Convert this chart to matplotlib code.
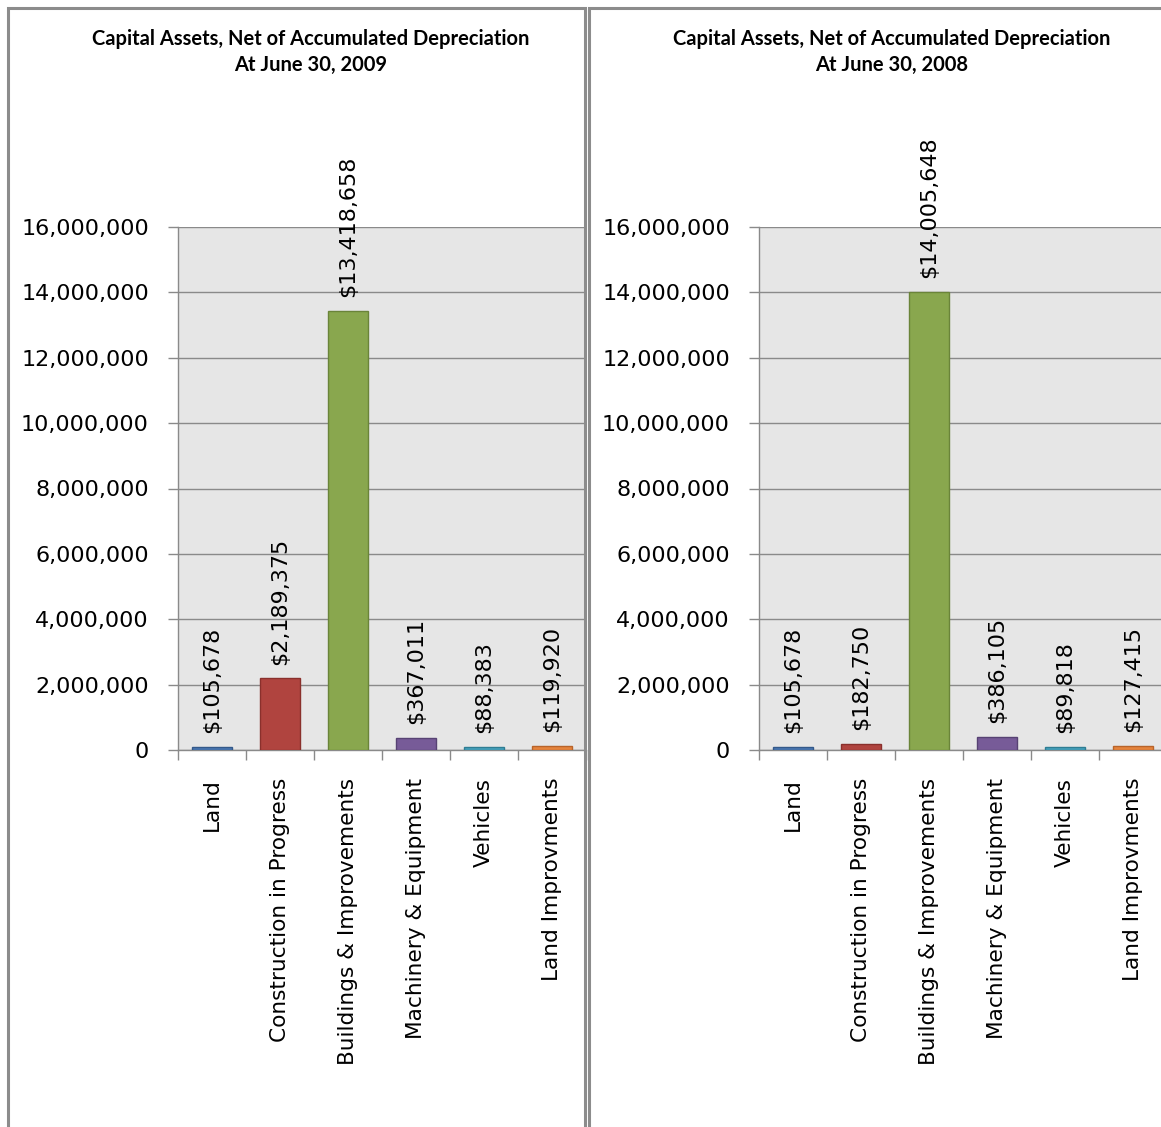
import matplotlib.pyplot as plt
from matplotlib.patches import Rectangle
from matplotlib.ticker import FuncFormatter, FixedLocator

categories = ['Land', 'Construction in Progress', 'Buildings & Improvements',
              'Machinery & Equipment', 'Vehicles', 'Land Improvments']
values_2009 = [105678, 2189375, 13418658, 367011, 88383, 119920]
values_2008 = [105678, 182750, 14005648, 386105, 89818, 127415]
titles = ['Capital Assets, Net of Accumulated Depreciation\nAt June 30, 2009',
          'Capital Assets, Net of Accumulated Depreciation\nAt June 30, 2008']

barColors = ['#4a78b2', '#b0443f', '#89a74e', '#775b98', '#46a2bd', '#e5843d']
edgeColors = ['#34598a', '#8a302c', '#6a8439', '#574273', '#2f7d93', '#b8642a']

W, H = 1161, 1127


def drawPanel(fig, left: float, values: list, title: str, boxLeft: float, titleX: float) -> None:
    ax = fig.add_axes([left / W, 1 - 750 / H, 408 / W, 523 / H])
    ax.set_facecolor('#e6e6e6')
    x = list(range(len(categories)))
    ax.bar(x, values, width=0.59, color=barColors, edgecolor=edgeColors, linewidth=1, zorder=3)
    ax.set_xlim(-0.5, len(categories) - 0.5)
    ax.set_ylim(0, 16000000)
    ax.set_yticks(range(0, 16000001, 2000000))
    ax.yaxis.set_major_formatter(FuncFormatter(lambda v, p: f'{int(v):,}'))
    ax.grid(axis='y', color='#8a8a8a', linewidth=1, zorder=1)
    ax.set_axisbelow(True)

    ax.set_xticks(x)
    ax.set_xticklabels(categories, rotation=90, fontsize=15.6, va='top')
    ax.xaxis.set_minor_locator(FixedLocator([i - 0.5 for i in range(len(categories) + 1)]))
    ax.tick_params(axis='x', which='major', length=0, pad=20)
    ax.tick_params(axis='x', which='minor', length=7, color='#8a8a8a', width=1)
    ax.tick_params(axis='y', length=7, color='#8a8a8a', width=1, pad=14, labelsize=16)

    for s in ['top', 'right']:
        ax.spines[s].set_visible(False)
    for s in ['left', 'bottom']:
        ax.spines[s].set_color('#8a8a8a')
        ax.spines[s].set_linewidth(1)

    for xi, v in zip(x, values):
        ax.annotate(f'${v:,}', (xi, v), xytext=(0, 10), textcoords='offset points',
                    rotation=90, ha='center', va='bottom', fontsize=16, clip_on=False)

    fig.add_artist(Rectangle((boxLeft / W, -0.01), 577 / W, 1.01 - 8 / H,
                             transform=fig.transFigure, fill=False,
                             edgecolor='#8c8c8c', linewidth=2.2))
    fig.text(titleX / W, 1 - 52 / H, title, ha='center', va='center',
             fontsize=14.5, fontweight='bold', family='Lato', linespacing=1.4)


def main() -> None:
    fig = plt.figure(figsize=(W / 100, H / 100), dpi=100)
    drawPanel(fig, 178, values_2009, titles[0], 8, 311)
    drawPanel(fig, 759, values_2008, titles[1], 589, 892)
    fig.savefig('out.png', dpi=100)


if __name__ == '__main__':
    main()
